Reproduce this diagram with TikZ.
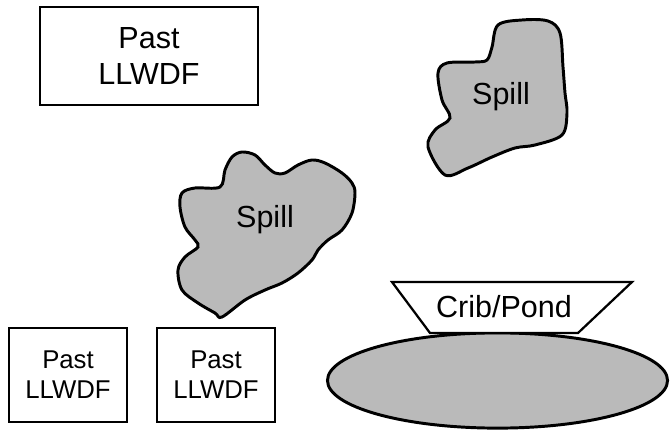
\documentclass[tikz,border=0pt]{standalone}
\usepackage{fontspec}
\setmainfont{Liberation Sans}
\usepackage{tikz}
\usetikzlibrary{shapes.geometric}
\tikzset{
  fdbox/.style={draw,line width=1.4pt,align=center},
  bigtext/.style={font=\fontsize{21.7}{26.3}\selectfont},
  smalltext/.style={font=\fontsize{18.3}{21.3}\selectfont},
  spillfill/.style={draw,line width=2.1pt,fill=black!27}
}

\begin{document}
\begin{tikzpicture}[x=0.025cm,y=-0.025cm]
\useasboundingbox (0,0) rectangle (670,431);
% past facilities
\node[fdbox,bigtext,minimum width=5.45cm,minimum height=2.45cm] (pastA) at (149,56) {Past\\LLWDF};
\node[fdbox,smalltext,minimum width=2.95cm,minimum height=2.35cm] (pastB) at (68,375) {Past\\LLWDF};
\node[fdbox,smalltext,minimum width=2.95cm,minimum height=2.35cm] (pastC) at (216,375) {Past\\LLWDF};
% spills
\draw[spillfill] plot[smooth cycle,tension=0.55] coordinates {(220,187) (225,170) (232,157) (242,152) (255,155) (265,165) (275,173) (285,173) (298,165) (312,160) (325,163) (342,173) (352,183) (355,193) (352,213) (342,230) (328,240) (318,250) (312,260) (298,273) (282,283) (265,290) (245,300) (222,317) (215,313) (198,303) (182,290) (178,270) (185,257) (198,247) (195,240) (185,227) (180,207) (182,193) (195,188)};
\node[bigtext] (spillA) at (265,220) {Spill};
\draw[spillfill] plot[smooth cycle,tension=0.55] coordinates {(498,25) (522,20) (548,21) (560,33) (563,67) (565,93) (567,113) (562,135) (535,145) (515,148) (492,157) (468,168) (445,175) (428,147) (435,130) (450,118) (442,100) (438,73) (447,63) (475,62) (487,60) (492,47)};
\node[bigtext] (spillB) at (501,97) {Spill};
% crib and pond
\draw[spillfill] (497.5,380.5) ellipse [x radius=4.25cm,y radius=1.19cm];
\draw[line width=1.6pt,fill=white] (392,282) -- (632,282) -- (578,333) -- (430,333) -- cycle;
\node[bigtext] (crib) at (504,307) {Crib/Pond};
\end{tikzpicture}
\end{document}
